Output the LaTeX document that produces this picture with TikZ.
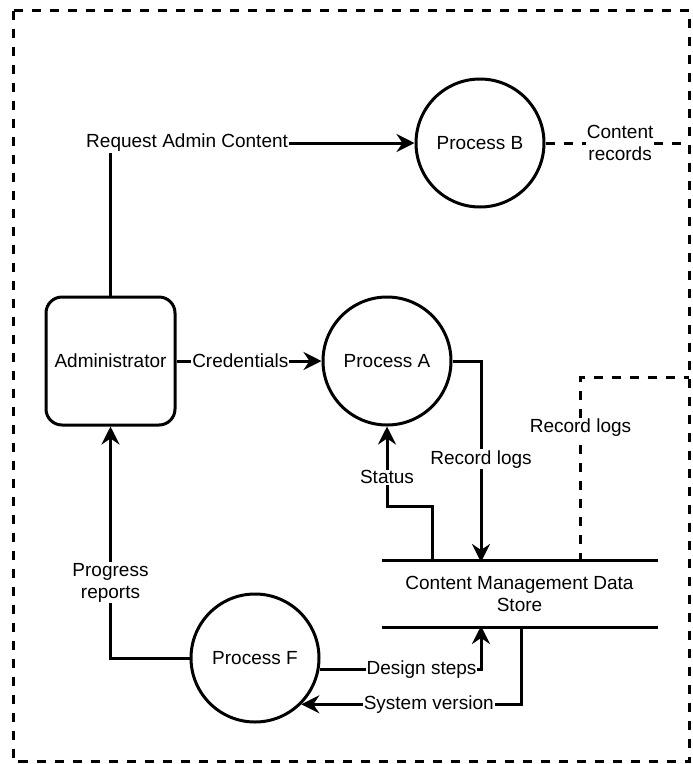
\documentclass[tikz,border=0pt]{standalone}
\usepackage{fontspec}
\setmainfont{Liberation Sans}
\usetikzlibrary{arrows.meta}

\begin{document}
\begin{tikzpicture}[x=1pt, y=-1pt, line width=3pt,
    every node/.style={font=\fontsize{19}{22}\selectfont, align=center},
    process/.style={draw, circle, minimum size=128pt, inner sep=0pt},
    flow/.style={-{Stealth[length=18pt, width=18pt, inset=6pt]}},
    lbl/.style={fill=white, inner sep=1pt},
    dashline/.style={dash pattern=on 9pt off 9pt}]
    \useasboundingbox (0,0) rectangle (693,764);

    % draw outer boundary
    \draw[dashline] (13.5,10.5) rectangle (689,761.5);

    % draw nodes
    \node[draw, rounded corners=16pt, minimum width=129pt, minimum height=128pt] (admin) at (110.5,361) {Administrator};
    \node[process] (procB) at (480,143) {Process B};
    \node[process] (procA) at (387,361) {Process A};
    \node[process] (procF) at (255,658) {Process F};
    \node[minimum width=273pt, minimum height=64pt, inner sep=0pt] (store) at (519.5,594) {Content Management Data\\Store};

    % draw data store lines
    \draw (store.north west) -- (store.north east);
    \draw (store.south west) -- (store.south east);

    % points on the store and on the boundary
    \coordinate (logIn) at (481,562);
    \coordinate (statusOut) at (432,562);
    \coordinate (logOut) at (580.5,562);
    \coordinate (designIn) at (481,626);
    \coordinate (sysOut) at (521,626);
    \coordinate (edgeB) at (689,143);
    \coordinate (edgeR) at (689,377);

    % draw flows
    \draw[flow] (admin.north) |- (procB.west) node[lbl, pos=0.626] {Request Admin Content};
    \draw[flow] (admin.east) -- (procA.west) node[lbl, pos=0.44] {Credentials};
    \draw[flow] (procA.east) -| (logIn) node[lbl, pos=0.744] {Record logs};
    \draw[flow] (statusOut) -- (432,506) -| (procA.south) node[lbl, pos=0.68] {Status};
    \draw[flow] (procF.west) -| (admin.south) node[lbl, pos=0.663] {Progress\\reports};
    \draw[flow] (procF.-10) -| (designIn) node[lbl, pos=0.316] {Design steps};
    \draw[flow] (sysOut) |- (procF.-45) node[lbl, pos=0.71] {System version};

    % draw dashed flows to the boundary
    \draw[dashline] (procB.east) -- (edgeB) node[lbl, pos=0.52] {Content\\records};
    \draw[dashline] (logOut) |- (edgeR) node[lbl, pos=0.362] {Record logs};
\end{tikzpicture}
\end{document}
